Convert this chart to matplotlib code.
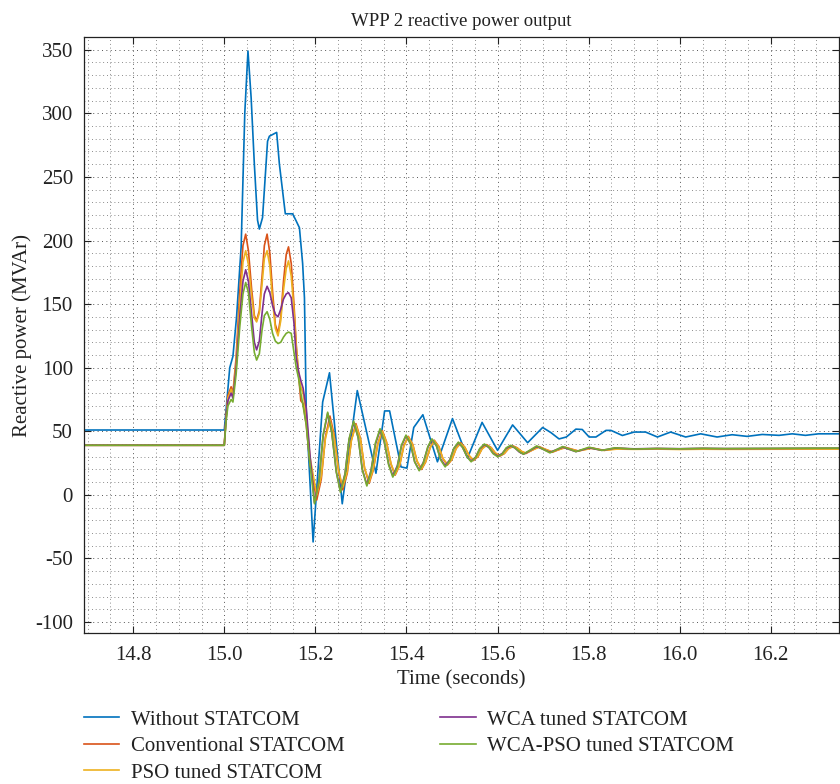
import numpy as np
import matplotlib
matplotlib.use('Agg')
from matplotlib import pyplot as plt
from matplotlib.ticker import MultipleLocator, FormatStrFormatter

plt.rcParams['font.family'] = ['Liberation Serif', 'DejaVu Serif']
plt.rcParams['font.size'] = 15
plt.rcParams['axes.unicode_minus'] = False

# Without STATCOM
t_blue = [14.69, 15.0, 15.004, 15.012, 15.019, 15.027, 15.037, 15.045, 15.052, 15.059,
          15.066, 15.073, 15.077, 15.084, 15.095, 15.099, 15.115, 15.121, 15.134, 15.150,
          15.157, 15.165, 15.172, 15.176, 15.180, 15.195, 15.216, 15.231, 15.259, 15.292,
          15.333, 15.352, 15.363, 15.388, 15.401, 15.416, 15.436, 15.468, 15.501, 15.534,
          15.566, 15.600, 15.633, 15.666, 15.677, 15.699, 15.717, 15.735, 15.751, 15.772,
          15.786, 15.801, 15.816, 15.838, 15.849, 15.874, 15.900, 15.925, 15.951, 15.980,
          16.013, 16.046, 16.082, 16.115, 16.148, 16.181, 16.218, 16.247, 16.276, 16.305, 16.35]
q_blue = [51, 51, 67, 100, 109, 140, 195, 300, 349, 312,
          260, 216, 209, 218, 278, 282, 285, 260, 221, 221,
          216, 210, 182, 155, 66, -37, 73, 96, -7, 82,
          17, 66, 66, 22, 21, 53, 63, 26, 60, 29,
          57, 35, 55, 41, 45, 53, 49, 44, 45.5, 51.7,
          51.4, 45.5, 45.5, 50.7, 50.7, 46.7, 49.4, 49.4, 45.5, 49.4,
          45.5, 48, 45.5, 47.3, 46, 47.5, 46.8, 48, 46.8, 48, 48]

# shared time base while the fault is on
t_fault = [14.69, 15.0, 15.004, 15.008, 15.015, 15.019, 15.026, 15.034, 15.041, 15.047,
           15.053, 15.06, 15.066, 15.071, 15.077, 15.083, 15.088, 15.094, 15.1, 15.106,
           15.112, 15.118, 15.124, 15.13, 15.136, 15.141, 15.147, 15.153, 15.158, 15.163,
           15.168, 15.173, 15.18, 15.188]

# post-fault swings (green/purple peak slightly ahead of red/orange)
t_osc_gp = [15.198, 15.208, 15.217, 15.227, 15.236, 15.246, 15.255, 15.265, 15.274, 15.284,
            15.294, 15.303, 15.313, 15.322, 15.332, 15.342, 15.351, 15.361, 15.37, 15.38,
            15.389, 15.399, 15.409, 15.418, 15.428, 15.437, 15.447, 15.456, 15.466, 15.475,
            15.485, 15.495, 15.504, 15.514, 15.523, 15.533, 15.542, 15.552, 15.561, 15.571,
            15.581, 15.59, 15.6, 15.61, 15.619, 15.629, 15.638, 15.648, 15.657,
            15.686, 15.715, 15.743, 15.772, 15.801, 15.829, 15.858]
t_osc_ro = [15.203, 15.213, 15.222, 15.232, 15.241, 15.251, 15.26, 15.27, 15.279, 15.289,
            15.299, 15.308, 15.318, 15.327, 15.337, 15.347, 15.356, 15.366, 15.375, 15.385,
            15.394, 15.404, 15.414, 15.423, 15.433, 15.442, 15.452, 15.461, 15.471, 15.48,
            15.49, 15.5, 15.509, 15.519, 15.528, 15.538, 15.547, 15.557, 15.566, 15.576,
            15.586, 15.595, 15.605, 15.615, 15.624, 15.634, 15.643, 15.653, 15.662,
            15.691, 15.72, 15.748, 15.777, 15.806, 15.834, 15.863]
t_tail = [15.9, 15.95, 16.0, 16.05, 16.1, 16.2, 16.35]

# Conventional STATCOM
q_conv_fault = [39, 39, 62, 78, 85, 80, 108, 160, 196, 205,
                192, 162, 141, 137, 145, 172, 196, 205, 190, 160,
                134, 127, 140, 168, 189, 195, 182, 150, 118, 95,
                74, 72, 55, 25]
q_conv_osc = [-4, 12.5, 45.5, 62, 47.5, 18.5, 4, 17, 43, 56,
              44.2, 20.8, 9, 19.4, 40.1, 50.5, 41.8, 24.2, 15.5, 23.1,
              38.4, 46, 39.5, 26.5, 20, 25.8, 37.2, 43, 38.1, 28.4,
              23.5, 27.9, 36.6, 41, 37.5, 30.5, 27, 30.1, 36.4, 39.5,
              37.2, 32.8, 30.5, 32.5, 36.5, 38.5, 37, 34, 32.5,
              38, 33.5, 37.5, 34.5, 37, 35, 36.5]
q_conv_tail = [36, 36.3, 36, 36.3, 36.1, 36.2, 36.3]

# PSO tuned STATCOM
q_pso_fault = [39, 39, 60, 76, 83, 78, 104, 150, 183, 192,
               181, 156, 139, 136, 143, 166, 186, 192, 180, 153,
               131, 125, 137, 161, 178, 184, 172, 145, 116, 96,
               85, 80, 62, 30]
q_pso_osc = [0, 14.8, 44.2, 59, 45.8, 19.2, 6, 18.2, 42.8, 55,
             43.8, 21.2, 10, 20, 40, 50, 41.5, 24.5, 16, 23.4,
             38.1, 45.5, 39.2, 26.8, 20.5, 26, 37, 42.5, 37.9, 28.6,
             24, 28.1, 36.4, 40.5, 37.2, 30.8, 27.5, 30.4, 36.1, 39,
             37, 33, 31, 32.8, 36.2, 38, 36.8, 34.2, 33,
             37.5, 34, 37, 34.5, 36.5, 35, 36]
q_pso_tail = [35.8, 36, 35.7, 35.9, 35.8, 35.9, 36]

# WCA tuned STATCOM
q_wca_fault = [39, 39, 60, 74, 80, 76, 100, 140, 168, 177,
               168, 142, 120, 114, 121, 143, 158, 164, 159, 149,
               142, 140, 146, 154, 158, 159, 155, 135, 108, 97,
               90, 84, 68, 32]
q_wca_osc = [-6, 11.5, 46.5, 64, 49, 18, 3, 16.5, 43.5, 57,
             45, 20, 8, 19, 40, 51, 42, 24, 15, 23,
             38.5, 46.5, 40, 26, 19.5, 25.5, 37.5, 43.5, 38.4, 28.1,
             23, 27.5, 36.5, 41, 37.4, 30.1, 26.5, 29.8, 36.2, 39.5,
             37.2, 32.8, 30.5, 32.5, 36.5, 38.5, 36.9, 33.6, 32,
             38, 33.5, 37.5, 34, 37, 35, 36.8]
q_wca_tail = [36.2, 36.5, 36.3, 36.6, 36.4, 36.5, 36.7]

# WCA-PSO tuned STATCOM
q_wcapso_fault = [39, 39, 58, 70, 75, 73, 95, 132, 158, 167,
                  159, 132, 112, 106, 111, 130, 141, 144, 138, 127,
                  121, 119, 120, 124, 127, 128, 127, 112, 100, 92,
                  80, 70, 55, 25]
q_wcapso_osc = [-7, 11, 47, 65, 49, 18, 2, 16, 44, 58,
                45, 20, 7, 18, 41, 52, 42.5, 23.5, 14, 22,
                39, 47, 40, 26, 19, 25, 38, 44, 38.5, 27.5,
                22, 27, 36.5, 41.5, 37.5, 30, 26, 29.5, 36.5, 40,
                37.5, 32.5, 30, 32, 37, 39, 37, 34, 32,
                38.5, 33, 38, 34, 37.5, 35, 37]
q_wcapso_tail = [36, 36.5, 36.2, 36.6, 36.4, 36.6, 36.8]

labels = ['Without STATCOM', 'Conventional STATCOM', 'PSO tuned STATCOM',
          'WCA tuned STATCOM', 'WCA-PSO tuned STATCOM']
colors = ['#0072BD', '#D95319', '#EDB120', '#7E2F8E', '#77AC30']

t_ro = t_fault + t_osc_ro + t_tail
t_gp = t_fault + t_osc_gp + t_tail
series = [
    (t_blue, q_blue),
    (t_ro, q_conv_fault + q_conv_osc + q_conv_tail),
    (t_ro, q_pso_fault + q_pso_osc + q_pso_tail),
    (t_gp, q_wca_fault + q_wca_osc + q_wca_tail),
    (t_gp, q_wcapso_fault + q_wcapso_osc + q_wcapso_tail),
]

fig = plt.figure(figsize=(8.4, 7.84), dpi=100)
ax = fig.add_axes([0.1, 0.1926, 0.899, 0.7602])

for (t, q), lab, c in zip(series, labels, colors):
    ax.plot(t, q, color=c, lw=1.2, label=lab)

ax.set_xlim(14.692, 16.35)
ax.set_ylim(-108.6, 360)
ax.xaxis.set_major_locator(MultipleLocator(0.2))
ax.xaxis.set_minor_locator(MultipleLocator(0.05))
ax.yaxis.set_major_locator(MultipleLocator(50))
ax.yaxis.set_minor_locator(MultipleLocator(10))
ax.xaxis.set_major_formatter(FormatStrFormatter('%.1f'))

ax.grid(which='major', linestyle=(0, (1, 3.5)), color='#555555', lw=0.7)
ax.grid(which='minor', linestyle=(0, (1, 3.5)), color='#666666', lw=0.6)
ax.tick_params(which='major', direction='in', length=5, width=0.8,
               top=True, right=True, colors='#222222', labelsize=15)
ax.tick_params(axis='x', which='major', pad=9)
ax.tick_params(axis='y', which='major', pad=8)
ax.tick_params(which='minor', length=0)
for sp in ax.spines.values():
    sp.set_color('#222222')
    sp.set_linewidth(0.9)

ax.set_title('WPP 2 reactive power output', fontsize=13.5, color='#222222', pad=8)
ax.set_xlabel('Time (seconds)', fontsize=15, color='#222222', labelpad=4)
ax.set_ylabel('Reactive power (MVAr)', fontsize=15, color='#222222', labelpad=2)

fig.legend(loc='upper left', bbox_to_anchor=(0.09, 0.105), ncol=2, frameon=False,
           fontsize=15, handlelength=1.7, handletextpad=0.55, columnspacing=4.6,
           labelspacing=0.33, borderaxespad=0, labelcolor='#222222')

plt.savefig('out.png', dpi=100, facecolor='white')
